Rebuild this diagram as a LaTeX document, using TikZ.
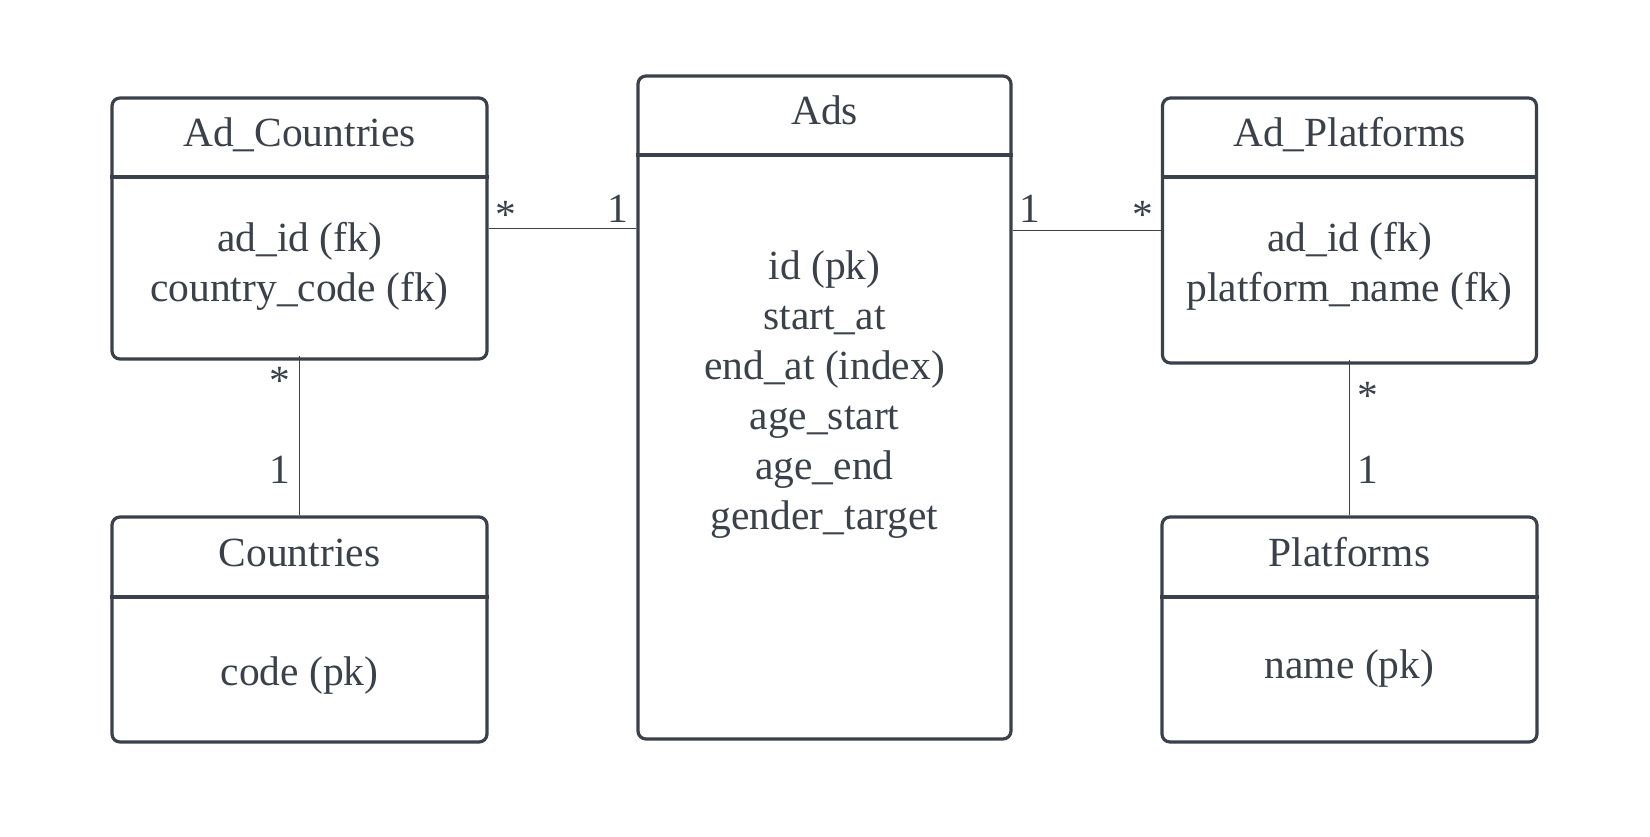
\documentclass[tikz,border=0pt]{standalone}
\usepackage{fontspec}
\setmainfont{Liberation Serif}
\definecolor{ln}{HTML}{3A414A}
\begin{document}
\begin{tikzpicture}[x=1pt,y=-1pt,
  tbl/.style={draw=ln, line width=3.2pt, rounded corners=8pt, fill=white, inner sep=0pt},
  divline/.style={draw=ln, line width=3.2pt},
  txt/.style={text=ln, font=\fontsize{41.5pt}{50pt}\selectfont, align=center, inner sep=0pt},
  lbl/.style={text=ln, font=\fontsize{41.5pt}{50pt}\selectfont, inner sep=0pt, anchor=base},
  hconn/.style={draw=ln, line width=1.5pt},
  vconn/.style={draw=ln, line width=1pt}]
\useasboundingbox (0,0) rectangle (1650,836);

% tables
\node[tbl, minimum width=375pt, minimum height=261pt] (adc) at (299.5,228.5) {};
\node[tbl, minimum width=373pt, minimum height=663pt] (ads) at (824.5,407.5) {};
\node[tbl, minimum width=374pt, minimum height=265pt] (adp) at (1349.5,230.5) {};
\node[tbl, minimum width=375pt, minimum height=225pt] (cou) at (299.5,629.5) {};
\node[tbl, minimum width=375pt, minimum height=225pt] (pla) at (1349.5,629.5) {};

% dividers
\draw[divline] (adc.west |- 0,177) -- (adc.east |- 0,177);
\draw[divline] (ads.west |- 0,155) -- (ads.east |- 0,155);
\draw[divline] (adp.west |- 0,177) -- (adp.east |- 0,177);
\draw[divline] (cou.west |- 0,597) -- (cou.east |- 0,597);
\draw[divline] (pla.west |- 0,597) -- (pla.east |- 0,597);

% texts
\node[txt] (adct) at (299.5,134.5) {Ad\_Countries};
\node[txt] (adcb) at (299.5,266.5) {ad\_id (fk)\\country\_code (fk)};
\node[txt] (adst) at (824.5,110.5) {Ads};
\node[txt] (adsb) at (824.5,395) {id (pk)\\start\_at\\end\_at (index)\\age\_start\\age\_end\\gender\_target};
\node[txt] (adpt) at (1349.5,134.5) {Ad\_Platforms};
\node[txt] (adpb) at (1349.5,266.5) {ad\_id (fk)\\platform\_name (fk)};
\node[txt] (cout) at (299.5,552.5) {Countries};
\node[txt] (coub) at (299.5,676) {code (pk)};
\node[txt] (plat) at (1349.5,552.5) {Platforms};
\node[txt] (plab) at (1349.5,669) {name (pk)};

% connectors
\draw[hconn] (adc.east) -- (ads.west |- adc.east);
\draw[hconn] (ads.east |- adp.west) -- (adp.west);
\draw[vconn] ([yshift=5pt]adc.south) -- (cou.north);
\draw[vconn] ([yshift=5pt]adp.south) -- (pla.north);

% multiplicities
\node[lbl] (m1) at (506,228) {*};
\node[lbl] (m2) at (618,222.5) {1};
\node[lbl] (m3) at (1030,222) {1};
\node[lbl] (m4) at (1143,228) {*};
\node[lbl] (m5) at (280,394) {*};
\node[lbl] (m6) at (280,483) {1};
\node[lbl] (m7) at (1368,409) {*};
\node[lbl] (m8) at (1368,483) {1};
\end{tikzpicture}
\end{document}
